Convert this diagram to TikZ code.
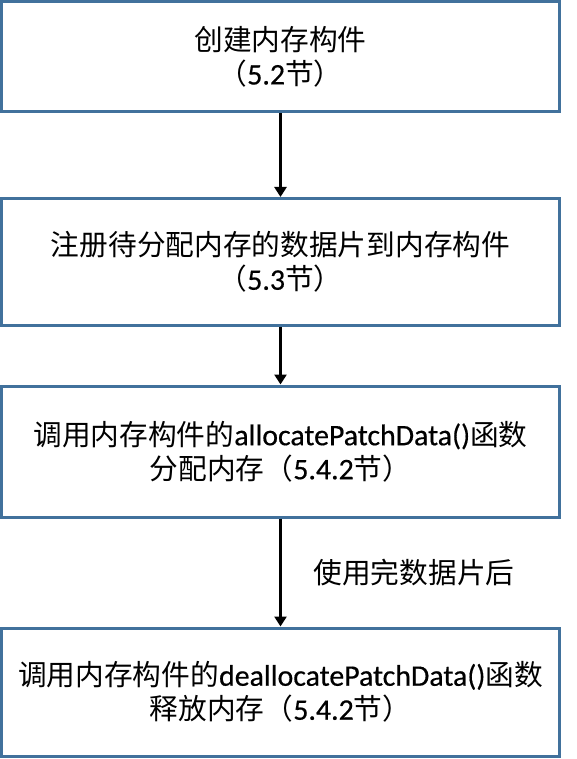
\documentclass[tikz,border=0pt]{standalone}
\usepackage{fontspec}
\setmainfont{Carlito}[Scale=1.04, FakeBold=0.5]
\newfontfamily\cjkfam{Noto Sans CJK SC}
\newcommand\cjk{\cjkfam\mdseries}
\usetikzlibrary{arrows.meta}
\definecolor{boxblue}{RGB}{65,113,156}
\begin{document}
\begin{tikzpicture}[x=1pt,y=-1pt,
  stepbox/.style={draw=boxblue, line width=3pt, fill=white, inner sep=0pt,
    minimum width=558pt, align=center, font=\fontsize{28.7}{34}\selectfont},
  flow/.style={line width=2.6pt, -{Triangle[width=12pt,length=10pt]}},
  lbltext/.style={inner sep=0pt, font=\fontsize{28.7}{34}\selectfont}]
\useasboundingbox (0,0) rectangle (577,759);
\node[stepbox, minimum height=110.5pt] (b1) at (280.5,56.75)
  {{\cjk 创建内存构件}\\{\cjk （}5.2{\cjk 节）}};
\node[stepbox, minimum height=127pt] (b2) at (280.5,262)
  {{\cjk 注册待分配内存的数据片到内存构件}\\{\cjk （}5.3{\cjk 节）}};
\node[stepbox, minimum height=131pt] (b3) at (280.5,451.5)
  {{\cjk 调用内存构件的}allocatePatchData(){\cjk 函数}\\{\cjk 分配内存（}5.4.2{\cjk 节）}};
\node[stepbox, minimum height=128pt] (b4) at (280.5,692)
  {{\cjk 调用内存构件的}deallocatePatchData(){\cjk 函数}\\{\cjk 释放内存（}5.4.2{\cjk 节）}};
\node[lbltext] (lbl) at (414,573) {\cjk 使用完数据片后};
\draw[flow] (b1.south) -- (b2.north);
\draw[flow] (b2.south) -- (b3.north);
\draw[flow] (b3.south) -- (b4.north);
\end{tikzpicture}
\end{document}
